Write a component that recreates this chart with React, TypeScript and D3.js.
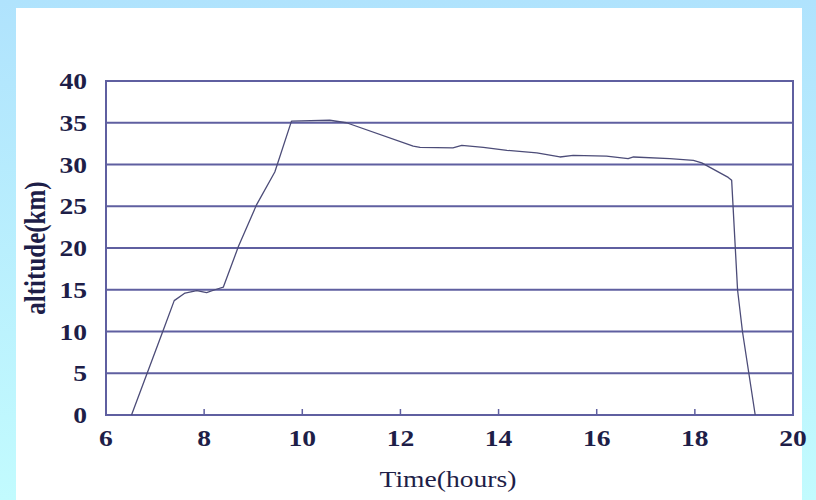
import React from "react";
import * as d3 from "d3";

// Flight profile: time (hours) vs altitude (km)
const timeHours = [
  6.52, 7.17, 7.39, 7.61, 7.85, 8.05, 8.22, 8.39, 8.7, 9.07, 9.44, 9.78, 10.56, 10.9,
  12.26, 12.4, 13.07, 13.25, 13.69, 14.17, 14.78, 15.25, 15.52, 16.2, 16.64, 16.75,
  17.49, 17.97, 18.14, 18.68, 18.75, 18.87, 18.97, 19.1, 19.23,
];
const altitudeKm = [
  0, 10.2, 13.7, 14.6, 14.9, 14.65, 15.0, 15.3, 20.2, 25.2, 29.1, 35.2, 35.3, 35.0,
  32.2, 32.05, 32.0, 32.3, 32.05, 31.7, 31.4, 30.9, 31.1, 31.0, 30.7, 30.9,
  30.7, 30.5, 30.2, 28.45, 28.1, 15.0, 10.0, 5.0, 0,
];
const xTicks = [6, 8, 10, 12, 14, 16, 18, 20];
const yTicks = [0, 5, 10, 15, 20, 25, 30, 35, 40];

const W = 816;
const H = 500;
const plot = { left: 106, right: 793, top: 81, bottom: 415 };
const gridColor = "#5f5fa0";
const textColor = "#1e1e48";
const stretch = 1.2;

export default function App() {
  const x = d3.scaleLinear().domain([6, 20]).range([plot.left, plot.right]);
  const y = d3.scaleLinear().domain([0, 40]).range([plot.bottom, plot.top]);
  const pts = timeHours.map((t, i) => [t, altitudeKm[i]] as [number, number]);
  const line = d3
    .line<[number, number]>()
    .x((d) => x(d[0]))
    .y((d) => y(d[1]));

  return (
    <svg
      width={W}
      height={H}
      style={{ position: "absolute", left: 0, top: 0, display: "block" }}
      fontFamily="'Liberation Serif', 'Times New Roman', serif"
    >
      <defs>
        <linearGradient id="bg" x1="0" y1="0" x2="0" y2="1">
          <stop offset="0" stopColor="#b0e3fd" />
          <stop offset="1" stopColor="#c2fbfe" />
        </linearGradient>
      </defs>
      <rect x={0} y={0} width={W} height={H} fill="url(#bg)" />
      <rect x={16} y={8} width={786} height={H - 8} fill="#ffffff" />

      {/* horizontal gridlines */}
      {yTicks.map((v) => (
        <line
          key={"g" + v}
          x1={plot.left}
          x2={plot.right}
          y1={y(v)}
          y2={y(v)}
          stroke={gridColor}
          strokeWidth={2}
        />
      ))}
      {/* frame */}
      <rect
        x={plot.left}
        y={plot.top}
        width={plot.right - plot.left}
        height={plot.bottom - plot.top}
        fill="none"
        stroke={gridColor}
        strokeWidth={2}
      />
      {/* x ticks (inward) */}
      {xTicks.map((v) => (
        <line
          key={"t" + v}
          x1={x(v)}
          x2={x(v)}
          y1={plot.bottom}
          y2={plot.bottom - 6}
          stroke={gridColor}
          strokeWidth={1.5}
        />
      ))}

      <path d={line(pts) || ""} fill="none" stroke="#4c4c78" strokeWidth={1.3} strokeLinejoin="round" />

      {/* y tick labels */}
      {yTicks.map((v) => (
        <text
          key={"yl" + v}
          transform={`translate(87,${y(v) + 8}) scale(${stretch},1)`}
          textAnchor="end"
          fontSize={23}
          fontWeight="bold"
          fill={textColor}
        >
          {v}
        </text>
      ))}
      {/* x tick labels */}
      {xTicks.map((v) => (
        <text
          key={"xl" + v}
          transform={`translate(${x(v)},446) scale(${stretch},1)`}
          textAnchor="middle"
          fontSize={23}
          fontWeight="bold"
          fill={textColor}
        >
          {v}
        </text>
      ))}

      <text
        transform={`translate(448,487) scale(${stretch},1)`}
        textAnchor="middle"
        fontSize={23}
        fill={textColor}
      >
        Time(hours)
      </text>
      <text
        transform={`translate(45,248) scale(${stretch},1) rotate(-90)`}
        textAnchor="middle"
        fontSize={25}
        fontWeight="bold"
        fill={textColor}
      >
        altitude(km)
      </text>
    </svg>
  );
}
